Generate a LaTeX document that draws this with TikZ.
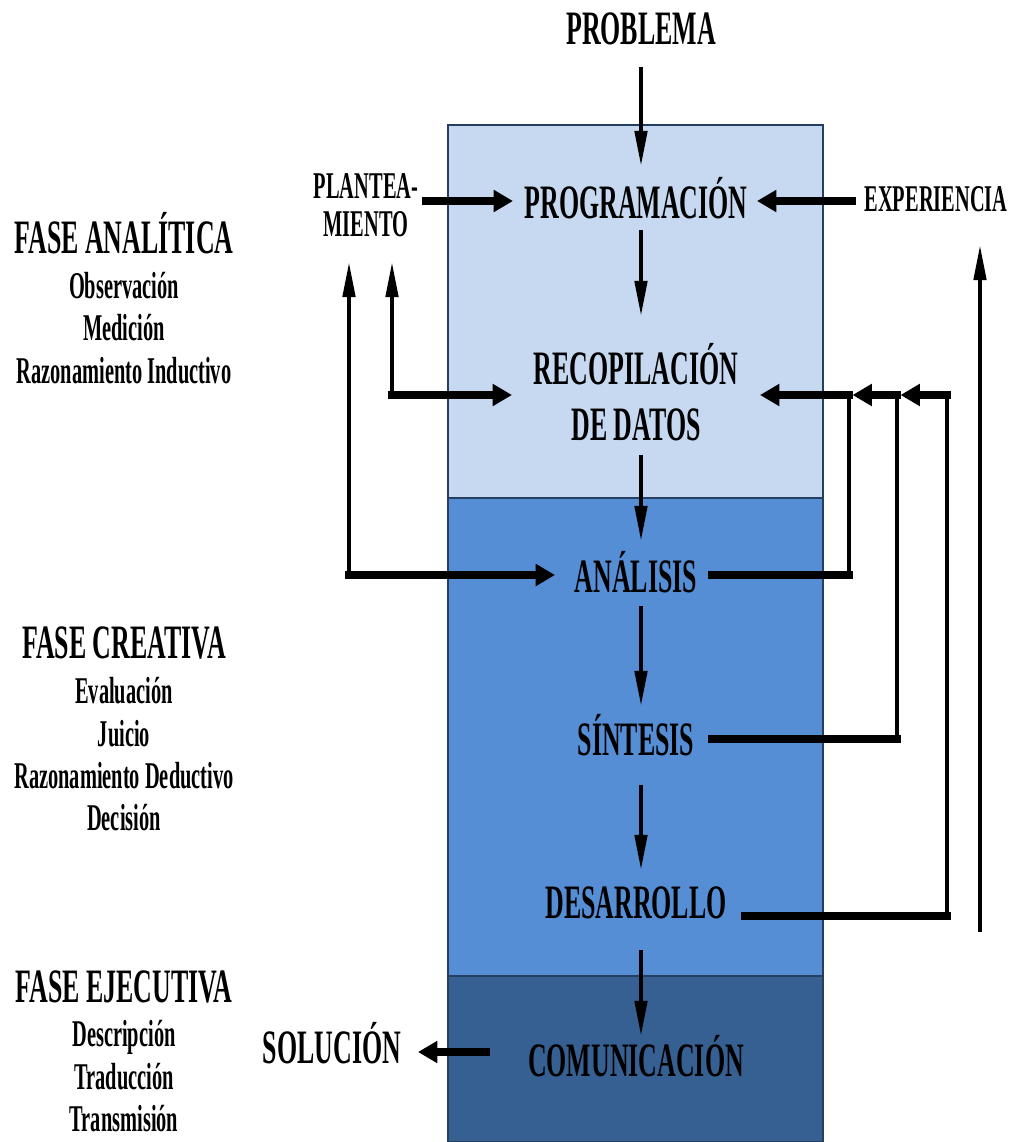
\documentclass[tikz,border=0pt]{standalone}
\usepackage{fontspec}
\setmainfont{Liberation Serif}[FakeStretch=0.54]
\usetikzlibrary{arrows.meta,calc}
\definecolor{bandA}{HTML}{C6D9F1}
\definecolor{bandB}{HTML}{558ED5}
\definecolor{bandC}{HTML}{376092}
\definecolor{edge}{HTML}{243F60}
\begin{document}
\begin{tikzpicture}[x=0.02cm,y=-0.02cm,
  big/.style={font=\fontsize{27.3}{32}\selectfont\bfseries, inner sep=0pt, text height=18pt, text depth=0pt},
  bigtwo/.style={font=\fontsize{27.3}{31.5}\selectfont\bfseries, inner sep=0pt, align=center},
  small/.style={font=\fontsize{21.5}{21.5}\selectfont\bfseries, inner sep=0pt, text height=14.2pt, text depth=0pt},
  smalltwo/.style={font=\fontsize{21.5}{21.5}\selectfont\bfseries, inner sep=0pt, align=center},
  band/.style={draw=edge, line width=1.5pt},
  thinline/.style={line width=2.2pt},
  thickline/.style={line width=4pt},
  thinarrow/.style={thinline, -{Triangle[length=20pt,width=7pt]}},
  thickarrow/.style={thickline, -{Triangle[length=11pt,width=12pt]}}]
\useasboundingbox (0,0) rectangle (1013,1142);

% the three phase bands of the column
\filldraw[band, fill=bandA] (448,125) rectangle (823,498);
\filldraw[band, fill=bandB] (448,498) rectangle (823,976);
\filldraw[band, fill=bandC] (448,976) rectangle (823,1142);

% steps of the process
\node[big] (prob) at (641,29) {PROBLEMA};
\node[big] (prog) at (636,203) {PROGRAMACIÓN};
\node[bigtwo] (recop) at (636,392) {RECOPILACIÓN\\DE DATOS};
\node[big] (anal) at (636,577) {ANÁLISIS};
\node[big] (sint) at (636,740) {SÍNTESIS};
\node[big] (desa) at (636,903) {DESARROLLO};
\node[big] (comu) at (636,1061) {COMUNICACIÓN};
\node[big] (sol) at (332,1048) {SOLUCIÓN};
\node[smalltwo] (plan) at (366,205) {PLANTEA-\\MIENTO};
\node[small] (exper) at (936,199) {EXPERIENCIA};

% phase labels
\node[big] (fa) at (124,238) {FASE ANALÍTICA};
\node[small] (fa1) at (124,286) {Observación};
\node[small] (fa2) at (124,328) {Medición};
\node[small] (fa3) at (124,371) {Razonamiento Inductivo};
\node[big] (fc) at (124,643) {FASE CREATIVA};
\node[small] (fc1) at (124,691) {Evaluación};
\node[small] (fc2) at (124,734) {Juicio};
\node[small] (fc3) at (124,776) {Razonamiento Deductivo};
\node[small] (fc4) at (124,818) {Decisión};
\node[big] (fe) at (124,987) {FASE EJECUTIVA};
\node[small] (fe1) at (124,1034) {Descripción};
\node[small] (fe2) at (124,1077) {Traducción};
\node[small] (fe3) at (124,1119) {Transmisión};

% main flow down the column
\draw[thinarrow] ($(prob)+(0,38)$) -- ($(prog)+(5,-37)$);
\draw[thinarrow] ($(prog)+(5,27)$) -- ($(recop)+(5,-76)$);
\draw[thinarrow] ($(recop)+(5,63)$) -- ($(anal)+(5,-36)$);
\draw[thinarrow] ($(anal)+(5,29)$) -- ($(sint)+(5,-34)$);
\draw[thinarrow] ($(sint)+(5,45)$) -- ($(desa)+(5,-33)$);
\draw[thinarrow] ($(desa)+(5,47)$) -- ($(comu)+(5,-25)$);

% inputs to the programming step
\draw[thickarrow] ($(plan)+(56,-4)$) -- ($(prog)+(-123,-2)$);
\draw[thickarrow] ($(exper)+(-80,2)$) -- ($(prog)+(121,-2)$);

% loops on the left
\coordinate (lA) at (392,395);
\coordinate (lAtop) at (392,262);
\coordinate (lB) at (349,575);
\coordinate (lBtop) at (349,262);
\draw[thinarrow] (lA) -- (lAtop);
\draw[thickarrow] ([xshift=-2]lA) -- ($(recop)+(-124,3)$);
\draw[thinarrow] (lB) -- (lBtop);
\draw[thickarrow] ([xshift=-2]lB) -- ($(anal)+(-81,-2)$);

% feedback loops on the right
\coordinate (rA) at (849,575);
\coordinate (rAtop) at (849,395);
\coordinate (rB) at (897,739);
\coordinate (rBtop) at (897,395);
\coordinate (rC) at (947,916);
\coordinate (rCtop) at (947,395);
\draw[thickline] ($(anal)+(72,-2)$) -- ([xshift=2]rA);
\draw[thinline] (rA) -- (rAtop);
\draw[thickarrow] ([xshift=2]rAtop) -- ($(recop)+(124,3)$);
\draw[thickline] ($(sint)+(72,-1)$) -- ([xshift=2]rB);
\draw[thinline] (rB) -- (rBtop);
\draw[thickarrow] ([xshift=2]rBtop) -- ([xshift=2]rAtop);
\draw[thickline] ($(desa)+(105,13)$) -- ([xshift=2]rC);
\draw[thinline] (rC) -- (rCtop);
\draw[thickarrow] ([xshift=2]rCtop) -- ([xshift=2]rBtop);

% long return towards experience
\coordinate (back) at (980,932);
\coordinate (backtop) at (980,245);
\draw[thinarrow] (back) -- (backtop);

% output
\draw[thickarrow] ($(comu)+(-146,-9)$) -- ($(sol)+(86,4)$);
\end{tikzpicture}
\end{document}
